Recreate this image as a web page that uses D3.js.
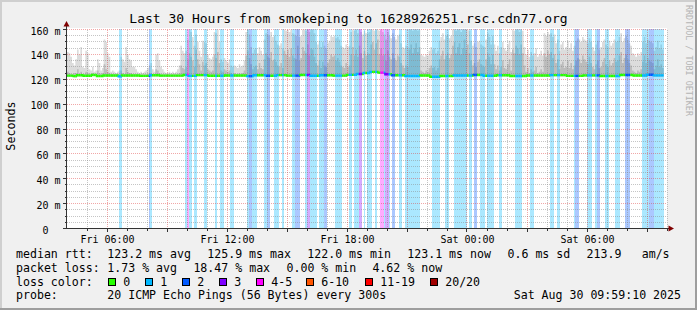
<!DOCTYPE html>
<html><head><meta charset="utf-8">
<script src="https://cdn.jsdelivr.net/npm/d3@7"></script>
<style>
html,body{margin:0;padding:0;background:#f0f0f0;}
svg{display:block;}
text{font-family:"DejaVu Sans Mono",monospace;fill:#000;white-space:pre;}
</style></head><body>
<svg id="c" width="697" height="310"></svg>
<script>
// ---------------- data ----------------
const title = "Last 30 Hours from smokeping to 1628926251.rsc.cdn77.org";
const startTime = new Date(2025, 7, 29, 4, 0, 0);
const endTime = new Date(2025, 7, 30, 10, 0, 0);
const stepMinutes = 5;
const yTicks = [0, 20, 40, 60, 80, 100, 120, 140, 160];
const yTickLabels = ["0  ", "20 m", "40 m", "60 m", "80 m", "100 m", "120 m", "140 m", "160 m"];
const xTickHours = [new Date(2025,7,29,6), new Date(2025,7,29,12), new Date(2025,7,29,18), new Date(2025,7,30,0), new Date(2025,7,30,6)];
const xTickLabels = ["Fri 06:00", "Fri 12:00", "Fri 18:00", "Sat 00:00", "Sat 06:00"];
const lossCategories = ["0", "1", "2", "3", "4-5", "6-10", "11-19", "20/20"];
const lossColors = ["#26ff00", "#00b8ff", "#0059ff", "#7e00ff", "#ff00ff", "#ff5500", "#ff0000", "#a10000"];
// [startStep, endStep, lost pings of 20]
const lossRanges = [
 [31,33,1],[49,50,2],[50,51,1],[71,72,1],[72,73,4],[73,75,1],[76,78,1],[82,84,1],
 [89,90,1],[92,94,1],[98,100,1],[108,109,1],[109,111,2],[111,114,1],[118,120,1],[120,122,2],
 [124,127,1],[129,130,1],[135,137,1],[137,140,2],[143,144,1],[144,146,3],[146,150,1],
 [151,154,1],[154,156,2],[161,165,1],[169,171,1],[172,175,1],[175,177,3],[178,179,1],
 [180,183,1],[185,186,1],[188,190,4],[190,191,1],[191,193,3],[193,194,1],[195,197,2],
 [199,201,1],[203,212,1],[219,224,1],[227,229,1],[232,240,1],[241,243,1],[244,246,2],
 [248,251,1],[252,256,1],[259,261,1],[269,273,1],[278,280,1],[290,292,1],[294,296,1],
 [304,305,1],[305,307,2],[312,315,1],[317,318,1],[318,320,2],[323,325,1],[329,332,1],
 [335,338,2],[345,349,1],[349,352,2],[352,358,1]
];
// [fromStep, median rtt ms]
const medianRuns = [
 [0,122.9],[4,122.5],[6,123.2],[10,122.8],[15,123.4],[18,122.6],[22,123.0],[31,122.4],[33,123.0],
 [44,122.7],[50,123.2],[56,122.9],[70,123.4],[73,122.7],[78,123.3],[85,122.8],[95,123.0],[108,122.5],
 [112,123.2],[120,122.8],[126,123.3],[132,122.9],[140,123.4],[146,122.8],[152,123.2],[160,122.9],
 [168,123.5],[174,124.2],[178,125.0],[182,125.9],[187,125.3],[191,124.0],[195,123.2],[203,122.6],
 [212,123.0],[218,122.0],[224,122.6],[232,123.0],[244,123.4],[250,122.8],[258,123.2],[266,122.6],
 [276,123.0],[290,123.3],[300,122.7],[310,123.1],[320,122.6],[332,123.4],[340,123.0],[348,123.6],[352,123.1]
];
// highest ping of each round (ms)
const smokeHi = [
 142,141,138,133,131,136,144,140,146,130, 129,143,141,128,127,130,126,127,136,133,
 127,129,152,150,141,138,126,127,126,125, 126,127,138,136,134,146,140,136,135,130,
 130,128,126,125,126,125,126,127,129,131, 133,128,126,140,141,135,130,128,126,125,
 125,126,125,126,125,126,128,131,147,143, 141,143,152,160,158,154,147,156,150,143,
 138,151,150,149,140,137,136,138,158,157, 160,150,136,134,137,135,133,136,131,130,
 131,130,129,132,130,131,135,158,160,156, 146,141,144,145,141,146,143,140,152,157,
 156,155,158,154,155,151,148,147,149,145, 160,159,160,158,160,157,156,155,160,154,
 155,160,160,159,160,158,160,160,157,150, 148,151,146,150,147,145,149,151,155,154,
 155,153,154,152,147,146,145,148,146,147, 158,160,159,160,157,160,158,156,159,157,
 157,158,160,160,159,160,160,159,160,158, 156,152,158,155,153,157,154,152,155,156,
 149,146,145,147,146,160,160,159,160,160, 159,160,140,139,138,140,139,143,146,144,
 145,141,143,151,154,157,152,155,156,153, 155,160,160,159,160,160,158,160,160,160,
 160,159,151,147,149,146,150,151,148,147, 146,152,157,154,148,155,148,143,147,141,
 146,150,145,143,148,151,142,160,159,160, 160,158,160,159,146,140,144,138,142,139,
 141,145,138,140,143,139,157,155,158,156, 157,154,156,149,152,143,148,150,144,146,
 151,145,149,143,147,151,153,152,150,154, 152,151,149,153,150,146,143,148,151,144,
 146,150,152,148,146,151,147,149,152,150, 151,154,157,150,153,155,152,149,147,141,
 140,138,141,139,142,150,154,149,152,151, 150,149,143,146,151,145,148,144
];
// upper edge of the denser (darker) smoke (ms)
const smokeMid = [
 126,125,124,124,125,125,128,124,126,124, 124,126,125,124,124,125,124,124,127,125,
 124,125,132,128,126,125,124,124,124,124, 124,124,127,125,124,129,126,125,125,124,
 124,124,124,124,124,124,124,124,124,125, 125,124,124,128,127,125,124,124,124,124,
 124,124,124,124,124,124,124,125,131,129, 128,130,136,141,138,135,130,144,136,132,
 127,134,131,133,128,127,126,127,140,137, 142,133,127,126,128,127,126,127,125,124,
 125,124,124,125,124,125,127,139,143,137, 132,128,130,131,128,133,129,128,136,141,
 138,137,142,135,136,134,131,130,133,129, 143,140,144,138,145,139,137,136,147,135,
 137,146,143,141,148,139,145,144,138,133, 131,135,129,134,131,130,133,136,140,138,
 139,135,137,134,131,130,129,133,130,131, 140,146,139,144,138,147,141,137,143,139,
 141,140,148,150,144,149,152,140,145,139, 140,135,143,138,136,141,137,135,139,138,
 133,131,129,131,130,144,148,141,145,149, 142,146,127,126,125,127,126,129,131,129,
 130,127,129,136,139,143,136,139,141,137, 140,147,150,141,146,149,140,145,152,144,
 148,141,135,131,133,130,134,136,132,131, 130,136,141,138,132,140,132,128,131,127,
 130,135,129,128,132,136,127,144,141,147, 145,140,148,141,131,126,129,125,128,126,
 127,130,125,126,128,126,141,138,143,140, 142,137,140,133,136,128,132,134,129,130,
 135,129,133,128,131,135,137,136,133,139, 136,134,132,138,133,130,128,132,135,129,
 130,134,137,132,130,135,131,133,137,134, 135,139,142,133,137,140,136,133,131,127,
 126,125,127,126,128,134,139,133,137,135, 134,133,128,131,136,130,132,129
];
const legendRtt = ["123.2 ms avg", "125.9 ms max", "122.0 ms min", "123.1 ms now", "0.6 ms sd", "213.9", "am/s"];
const legendLoss = ["1.73 % avg", "18.47 % max", "0.00 % min", "4.62 % now"];
const probeText = "20 ICMP Echo Pings (56 Bytes) every 300s";
const dateText = "Sat Aug 30 09:59:10 2025";

// ---------------- drawing ----------------
const svg = d3.select("#c");
const W = 697, H = 310;
const x = d3.scaleTime().domain([startTime, endTime]).range([67, 667]);
const y = d3.scaleLinear().domain([0, 160]).range([228.5, 29.5]);
const stepTime = i => d3.timeMinute.offset(startTime, i * stepMinutes);
const nSteps = smokeHi.length;
const median = new Array(nSteps);
medianRuns.forEach(([s, v], k) => {
  const e = k + 1 < medianRuns.length ? medianRuns[k + 1][0] : nSteps;
  for (let i = s; i < e; i++) median[i] = v;
});
const lossAt = new Array(nSteps).fill(0);
lossRanges.forEach(([s, e, l]) => { for (let i = s; i < e && i < nSteps; i++) lossAt[i] = l; });
const lossIndex = l => l <= 3 ? l : l <= 5 ? 4 : l <= 10 ? 5 : l <= 19 ? 6 : 7;

// background & frame
svg.append("rect").attr("width", W).attr("height", H).attr("fill", "#f0f0f0");
svg.append("path").attr("d", `M0,0H${W}V2H2V${H}H0Z`).attr("fill", "#cfcfcf");
svg.append("path").attr("d", `M${W},${H}H0V${H-2}H${W-2}V0H${W}Z`).attr("fill", "#9e9e9e");

const x0 = x.range()[0], x1 = x.range()[1];
const yTop = y(160) - 1.5, yBot = y(0);
svg.append("rect").attr("x", x0).attr("y", yTop).attr("width", x1 - x0).attr("height", yBot - yTop).attr("fill", "#fff");

svg.append("clipPath").attr("id", "plot").append("rect")
  .attr("x", x0).attr("y", y(160) - 0.5).attr("width", x1 - x0).attr("height", y(0) - y(160) + 0.5);
const g = svg.append("g").attr("clip-path", "url(#plot)");

// smoke
const idx = d3.range(nSteps + 1);
const cl = i => Math.min(i, nSteps - 1);
const area = arr => d3.area().curve(d3.curveStepAfter)
  .x(i => x(stepTime(i)))
  .y0(i => y(median[cl(i)] - 0.8))
  .y1(i => y(Math.min(arr[cl(i)], 161)));
g.append("path").attr("d", area(smokeHi)(idx)).attr("fill", "#dcdcdc");
g.append("path").attr("d", area(smokeMid)(idx)).attr("fill", "#bcbcbc");

// loss background bands
g.selectAll("rect.band").data(lossRanges).join("rect").attr("class", "band")
  .attr("x", d => x(stepTime(d[0])))
  .attr("width", d => x(stepTime(d[1])) - x(stepTime(d[0])))
  .attr("y", y(160) - 0.5).attr("height", y(0) - y(160) + 0.5)
  .attr("fill", d => lossColors[lossIndex(d[2])]).attr("fill-opacity", 0.33)
  .attr("shape-rendering", "crispEdges");

// grid
const gridG = svg.append("g").attr("shape-rendering", "crispEdges").attr("stroke-dasharray", "1,1");
const minorY = d3.range(5, 161, 5).filter(v => v % 20 !== 0);
const majorY = yTicks.filter(v => v > 0);
const rY = v => Math.round(y(v) - 0.5) + 0.5;
gridG.selectAll("line.my").data(minorY).join("line")
  .attr("x1", x0).attr("x2", x1).attr("y1", rY).attr("y2", rY)
  .attr("stroke", "rgba(140,140,140,0.5)");
const hours = d3.timeHour.range(d3.timeHour.offset(startTime, 1), d3.timeHour.offset(endTime, 1));
const rX = t => Math.round(x(t) - 0.5) + 0.5;
gridG.selectAll("line.mx").data(hours.filter(h => h.getHours() % 3 !== 0)).join("line")
  .attr("x1", rX).attr("x2", rX).attr("y1", y(160)).attr("y2", y(0))
  .attr("stroke", "rgba(140,140,140,0.5)");
gridG.selectAll("line.My").data(majorY).join("line")
  .attr("x1", x0).attr("x2", x1).attr("y1", rY).attr("y2", rY)
  .attr("stroke", "rgba(225,60,60,0.45)");
gridG.selectAll("line.Mx").data(hours.filter(h => h.getHours() % 3 === 0)).join("line")
  .attr("x1", rX).attr("x2", rX).attr("y1", y(160)).attr("y2", y(0))
  .attr("stroke", "rgba(225,60,60,0.45)");

// median line coloured by loss
const mg = svg.append("g").attr("clip-path", "url(#plot)");
d3.range(nSteps).forEach(i => {
  const xa = x(stepTime(i)), xb = x(stepTime(i + 1));
  const yp = y(median[i > 0 ? i - 1 : 0]), yc = y(median[i]);
  mg.append("path").attr("d", `M${xa},${yp}V${yc}H${xb}`)
    .attr("fill", "none").attr("stroke", lossColors[lossIndex(lossAt[i])])
    .attr("stroke-width", 2.4);
});

// axes lines, ticks, arrows
const axC = "#333";
svg.append("line").attr("x1", 66.5).attr("x2", 66.5).attr("y1", 229).attr("y2", 25).attr("stroke", axC);
svg.append("line").attr("x1", 63).attr("x2", 669).attr("y1", 228.5).attr("y2", 228.5).attr("stroke", axC);
svg.append("path").attr("d", "M66.5,21L63.5,26.5H69.5Z").attr("fill", "#7f0000");
svg.append("path").attr("d", "M674,228.5L668.5,225.5V231.5Z").attr("fill", "#7f0000");
svg.selectAll("line.yt").data(d3.range(0, 161, 5)).join("line")
  .attr("x1", v => v % 20 === 0 ? 63 : 64.5).attr("x2", 66.5).attr("y1", rY).attr("y2", rY)
  .attr("stroke", axC).attr("shape-rendering", "crispEdges");
svg.selectAll("line.xt").data(hours).join("line")
  .attr("x1", rX).attr("x2", rX).attr("y1", 228.5).attr("y2", h => h.getHours() % 3 === 0 ? 231.5 : 230.5)
  .attr("stroke", axC).attr("shape-rendering", "crispEdges");

// axis labels via d3 axes
const yAxis = d3.axisLeft(y).tickValues(yTicks).tickSize(0).tickPadding(0)
  .tickFormat((d, i) => yTickLabels[i]);
const ya = svg.append("g").attr("transform", "translate(60.5,0)").call(yAxis);
ya.select(".domain").remove();
ya.selectAll("text").attr("dy", "0.45em").attr("font-size", "10px")
  .attr("font-family", "DejaVu Sans Mono").attr("fill", "#000").attr("xml:space", "preserve");
const xAxis = d3.axisBottom(x).tickValues(xTickHours).tickSize(0).tickPadding(0)
  .tickFormat((d, i) => xTickLabels[i]);
const xa = svg.append("g").attr("transform", "translate(0,242.5)").call(xAxis);
xa.select(".domain").remove();
xa.selectAll("text").attr("dy", 0).attr("y", 0).attr("font-size", "10px")
  .attr("font-family", "DejaVu Sans Mono").attr("fill", "#000");

// title and side texts
svg.append("text").attr("x", 348.5).attr("y", 23).attr("text-anchor", "middle")
  .attr("font-size", "13px").text(title);
svg.append("text").attr("transform", "translate(15,126) rotate(-90)").attr("text-anchor", "middle")
  .attr("font-size", "11.7px").text("Seconds");
svg.append("text").attr("transform", "translate(685.5,5) rotate(90)")
  .attr("font-size", "8.4px").style("fill", "#b4b4b4").text("RRDTOOL / TOBI OETIKER");

// legend
const fs = "11.58px";
const rows = [258.3, 271.8, 285.5, 298.6];
const put = (txt, xx, yy, anchor) => svg.append("text").attr("x", xx).attr("y", yy)
  .attr("font-size", fs).attr("text-anchor", anchor || "start").text(txt);
put("median rtt:", 16, rows[0]);
[107.3, 207.3, 307.3, 407.3, 507.5, 586.6, 641.7].forEach((xx, i) => put(legendRtt[i], xx, rows[0]));
put("packet loss:", 16, rows[1]);
[107.3, 193.4, 286.5, 372.4].forEach((xx, i) => put(legendLoss[i], xx, rows[1]));
put("loss color:", 16, rows[2]);
const boxX = [108.5, 145.5, 182.5, 219.5, 256.5, 306.5, 365.5, 430.5];
lossCategories.forEach((c, i) => {
  svg.append("rect").attr("x", boxX[i]).attr("y", 278.5).attr("width", 7).attr("height", 7)
    .attr("fill", lossColors[i]).attr("stroke", "#000").attr("stroke-width", 1);
  put(c, boxX[i] + 14.7, rows[2]);
});
put("probe:", 16, rows[3]);
put(probeText, 107.3, rows[3]);
put(dateText, 681, rows[3], "end");
</script>
</body></html>
